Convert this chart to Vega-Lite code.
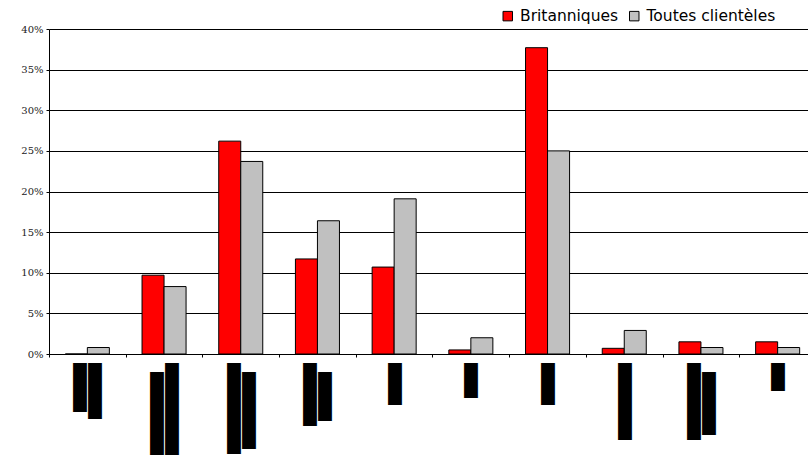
{
  "$schema": "https://vega.github.io/schema/vega-lite/v6.json",
  "width": 759,
  "height": 325,
  "autosize": {"type": "none"},
  "padding": {"left": 49, "top": 29, "right": 0, "bottom": 101},
  "background": "white",
  "data": {
    "values": [
      {"cat": 1, "series": "Britanniques", "share": 0.0},
      {"cat": 1, "series": "Toutes clientèles", "share": 0.008},
      {"cat": 2, "series": "Britanniques", "share": 0.097},
      {"cat": 2, "series": "Toutes clientèles", "share": 0.083},
      {"cat": 3, "series": "Britanniques", "share": 0.262},
      {"cat": 3, "series": "Toutes clientèles", "share": 0.237},
      {"cat": 4, "series": "Britanniques", "share": 0.117},
      {"cat": 4, "series": "Toutes clientèles", "share": 0.164},
      {"cat": 5, "series": "Britanniques", "share": 0.107},
      {"cat": 5, "series": "Toutes clientèles", "share": 0.191},
      {"cat": 6, "series": "Britanniques", "share": 0.005},
      {"cat": 6, "series": "Toutes clientèles", "share": 0.020},
      {"cat": 7, "series": "Britanniques", "share": 0.377},
      {"cat": 7, "series": "Toutes clientèles", "share": 0.250},
      {"cat": 8, "series": "Britanniques", "share": 0.007},
      {"cat": 8, "series": "Toutes clientèles", "share": 0.029},
      {"cat": 9, "series": "Britanniques", "share": 0.015},
      {"cat": 9, "series": "Toutes clientèles", "share": 0.008},
      {"cat": 10, "series": "Britanniques", "share": 0.015},
      {"cat": 10, "series": "Toutes clientèles", "share": 0.008}
    ]
  },
  "mark": {"type": "bar", "stroke": "black", "strokeWidth": 1},
  "encoding": {
    "x": {
      "field": "cat",
      "type": "ordinal",
      "sort": null,
      "scale": {"range": [0, 767], "paddingInner": 0.426, "paddingOuter": 0.213},
      "axis": {
        "title": null,
        "domainColor": "black",
        "domainWidth": 1,
        "tickColor": "black",
        "tickSize": 3,
        "tickOffset": -38.35,
        "labelOffset": {
          "condition": {"test": "indexof([1, 2, 3, 4, 9], datum.value) >= 0", "value": 44.85},
          "value": 37.35
        },
        "labelAngle": 90,
        "labelAlign": "left",
        "labelBaseline": "middle",
        "labelFont": "DejaVu Sans Mono",
        "labelFontSize": 11.63,
        "labelLineHeight": 15,
        "labelColor": "black",
        "labelPadding": 5.5,
        "labelOverlap": false,
        "labelLimit": 0,
        "labelExpr": "[['████████','███████'], ['██████████████','\u2800█████████████'], ['\u2800███████████','█████████████'], ['\u2800███████','█████████'], '██████', '█████', '██████', '███████████', ['\u2800█████████','███████████'], '████'][datum.value - 1]"
      }
    },
    "xOffset": {
      "field": "series",
      "type": "nominal",
      "scale": {"domain": ["Britanniques", "Toutes clientèles"]}
    },
    "y": {
      "field": "share",
      "type": "quantitative",
      "scale": {"domain": [0, 0.4], "nice": false, "zero": true},
      "axis": {
        "title": null,
        "values": [0, 0.05, 0.1, 0.15, 0.2, 0.25, 0.3, 0.35, 0.4],
        "format": ".0%",
        "grid": true,
        "gridColor": "black",
        "gridWidth": 1,
        "gridOpacity": 1,
        "domainColor": "black",
        "tickColor": "black",
        "tickSize": 3,
        "labelFont": "DejaVu Serif",
        "labelFontSize": 10,
        "labelColor": "#222222",
        "labelPadding": 3
      }
    },
    "color": {
      "field": "series",
      "type": "nominal",
      "scale": {"domain": ["Britanniques", "Toutes clientèles"], "range": ["#FF0000", "#C0C0C0"]},
      "legend": {
        "title": null,
        "orient": "none",
        "legendX": 451,
        "legendY": -21,
        "direction": "horizontal",
        "symbolType": "square",
        "symbolSize": 90,
        "symbolStrokeColor": "black",
        "symbolStrokeWidth": 1,
        "symbolOpacity": 1,
        "labelFont": "DejaVu Sans",
        "labelFontSize": 15.5,
        "labelColor": "black",
        "labelOffset": 4.5,
        "columnPadding": 7.5,
        "padding": 0
      }
    }
  },
  "config": {"view": {"stroke": null}}
}
